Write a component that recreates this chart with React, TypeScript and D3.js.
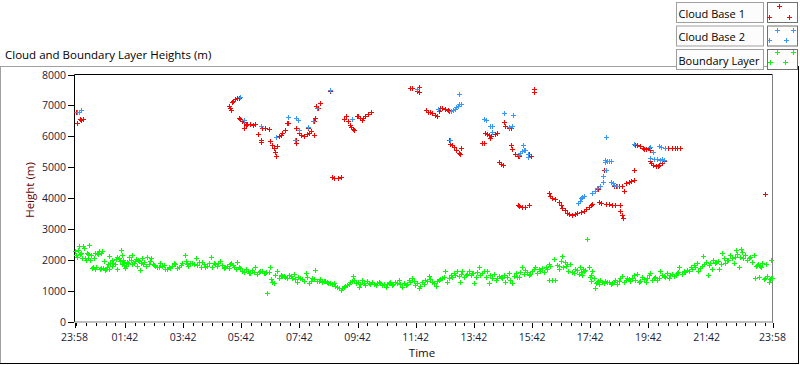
import React from "react";
import * as d3 from "d3";

// minutes since 23:58, height (m)
const cloudBase1: [number, number][] = [
  [4, 6790], [5, 6440], [12, 6560], [14, 6530], [17, 6570],
  [318, 6970], [320, 6900], [322, 6865], [325, 7100], [328, 7150], [332, 7200], [336, 7230], [339, 7245],
  [339, 6595], [342, 6560], [345, 6500], [349, 6450], [349, 6270], [353, 6380], [356, 6410], [363, 6400],
  [369, 6380], [373, 6400], [379, 6085], [384, 5890], [385, 5810], [387, 6270], [392, 6260], [401, 6240],
  [404, 5835], [407, 5730], [411, 5620], [414, 5500], [415, 5350], [418, 5675], [421, 6000], [425, 6050],
  [429, 6100], [435, 6215], [439, 6430], [441, 6430],
  [456, 6270], [456, 5890], [457, 5790], [463, 6110], [468, 6040], [474, 6020], [479, 6060], [483, 6100],
  [481, 6270], [487, 6160], [494, 6055], [494, 6485], [497, 6595], [499, 6970], [502, 6920], [507, 7080],
  [527, 7460], [532, 4680], [536, 4660], [543, 4650], [549, 4665],
  [556, 6560], [561, 6670], [564, 6485], [568, 6380], [571, 6300], [575, 6240], [576, 6215], [583, 6650],
  [584, 6670], [588, 6600], [594, 6540], [596, 6580], [600, 6650], [605, 6720], [611, 6780],
  [693, 7570], [696, 7560], [706, 7450], [710, 7590], [710, 7430],
  [726, 6840], [730, 6800], [734, 6780], [738, 6760], [743, 6700], [747, 6670], [752, 6810], [755, 6930],
  [759, 6910], [765, 6890], [770, 6850], [772, 6810],
  [846, 6110], [850, 6080], [855, 6055], [858, 5945], [860, 6000], [867, 6085], [871, 6090],
  [886, 6450], [889, 6320], [896, 6270], [900, 6270], [840, 5785], [844, 5785],
  [772, 5890], [775, 5760], [778, 5710], [783, 5650], [788, 5545], [793, 5460], [796, 5440], [798, 5620],
  [875, 5155], [879, 5110], [884, 5080],
  [900, 5720], [903, 5590], [909, 5435], [914, 5350], [917, 5370], [938, 5425], [941, 5370],
  [948, 7540], [948, 7430],
  [914, 3780], [918, 3740], [924, 3705], [930, 3720], [938, 3780],
  [978, 4160], [982, 4050], [986, 4010], [992, 3965], [999, 3855], [1003, 3780], [1006, 3675], [1011, 3600],
  [1016, 3530], [1021, 3490], [1027, 3455], [1032, 3490], [1037, 3530], [1044, 3560], [1051, 3595],
  [1056, 3640], [1061, 3705], [1065, 3760], [1068, 3815],
  [1082, 3855], [1087, 3830], [1096, 3815], [1102, 3800], [1109, 3780], [1116, 3780], [1125, 3780],
  [1126, 3565], [1129, 3450], [1132, 3350],
  [1073, 4235], [1079, 4290], [1093, 4915],
  [1113, 4400], [1118, 4400], [1124, 4400], [1130, 4400], [1133, 4235], [1137, 4485], [1143, 4520],
  [1149, 4560], [1154, 4590], [1154, 4915],
  [1157, 5730], [1161, 5720], [1167, 5695], [1172, 5630], [1175, 5590], [1178, 5600], [1185, 5620], [1188, 5565],
  [1219, 5620], [1225, 5620], [1232, 5620], [1238, 5620], [1244, 5620], [1249, 5620],
  [1187, 5210], [1190, 5130], [1194, 5080], [1199, 5050], [1203, 5025], [1206, 5070], [1212, 5135], [1217, 5210],
  [1424, 4140],
];

const cloudBase2: [number, number][] = [
  [6, 6780], [10, 6800], [14, 6850],
  [342, 7275], [349, 6540], [385, 6320], [415, 5980], [441, 6625],
  [457, 6595], [461, 6540], [455, 5870], [463, 6215], [481, 6290], [493, 6510], [501, 6930],
  [528, 7500], [573, 6560], [707, 7530],
  [749, 6880], [776, 6810], [780, 6850], [784, 6890], [788, 6950], [791, 6995], [794, 7030], [798, 7060], [793, 7375],
  [844, 6560], [848, 6520], [857, 6345], [862, 6345], [886, 6760], [905, 6700], [902, 6320], [862, 6130], [897, 6300],
  [774, 5870],
  [917, 5400], [920, 5460], [924, 5510], [927, 5540], [930, 5565], [926, 5720], [935, 5440], [935, 5330],
  [1039, 3835], [1042, 3900], [1045, 4000], [1048, 4040], [1051, 4075],
  [1068, 4160], [1073, 4240], [1078, 4320], [1084, 4400], [1091, 4505], [1090, 4700], [1094, 5240], [1098, 5210],
  [1102, 5200], [1107, 5185], [1096, 5980], [1096, 4900], [1095, 5160],
  [1106, 4505], [1110, 4470], [1114, 4420], [1120, 4400],
  [1155, 5750], [1188, 5640], [1193, 5490], [1206, 5675], [1211, 5650], [1219, 5620],
  [1188, 5295], [1195, 5260], [1201, 5250], [1207, 5240], [1213, 5270], [1216, 5240],
];

const boundaryLayer: [number, number][] = [
  [2, 2270], [6, 2100], [9, 2430], [14, 2230], [18, 2450], [21, 2050], [25, 2210], [30, 2480], [33, 2000],
  [37, 1730], [40, 2050], [43, 2210], [45, 1780], [50, 2270], [52, 1690], [57, 2270], [60, 1950], [63, 1670],
  [67, 1780], [71, 2130], [74, 1890], [80, 1910], [85, 2020], [88, 1690], [91, 2050], [95, 2320], [98, 2160],
  [102, 1830], [105, 1730], [109, 1940], [116, 2000], [119, 2160], [122, 1890], [126, 2020], [131, 2000],
  [136, 1670], [140, 2050], [144, 1940], [150, 2100], [153, 1860], [158, 2050], [164, 1830], [171, 1780],
  [177, 1910], [184, 1830], [191, 1690], [198, 1720], [205, 1890], [212, 1720], [219, 1830], [227, 2160],
  [232, 1860], [239, 1880], [250, 2050], [253, 1830], [263, 1940], [270, 1780], [281, 2100], [287, 1910],
  [294, 1800], [301, 1970], [308, 1720], [315, 1800], [323, 1910], [329, 1780], [336, 1940], [342, 1730],
  [353, 1690], [360, 1560], [367, 1670], [373, 1780], [380, 1590], [387, 1620], [394, 1560], [398, 910],
  [404, 1780], [408, 1290], [411, 1240], [418, 1620], [425, 1510], [432, 1460], [439, 1400], [446, 1460],
  [452, 1540], [459, 1290], [466, 1400], [477, 1560], [483, 1260], [490, 1400], [497, 1670], [501, 1320],
  [507, 1370], [514, 1320], [521, 1290], [528, 1240], [535, 1240], [542, 1130], [549, 1020], [556, 1130],
  [563, 1190], [569, 1290], [574, 1460], [580, 1240], [587, 1130], [594, 1350], [600, 1190], [607, 1260],
  [614, 1290], [621, 1190], [628, 1290], [635, 1190], [642, 1130], [648, 1240], [655, 1190], [662, 1290],
  [669, 1350], [676, 1130], [683, 1190], [690, 1350], [697, 1400], [703, 1190], [710, 1080], [717, 1290],
  [724, 1350], [731, 1460], [738, 1290], [745, 1150], [752, 1350], [759, 1400], [765, 1650], [769, 1290],
  [776, 1510], [783, 1560], [790, 1650], [795, 1290], [800, 1650], [807, 1510], [814, 1620], [820, 1560],
  [824, 1260], [831, 1590], [834, 1760], [841, 1560], [851, 1650], [855, 1240], [862, 1400], [869, 1350],
  [875, 1480], [882, 1400], [889, 1290], [896, 1560], [903, 1260], [910, 1560], [917, 1430], [924, 1780],
  [930, 1670], [937, 1510], [944, 1620], [951, 1760], [958, 1690], [965, 1720], [972, 1780], [978, 1860],
  [978, 1350], [986, 1350], [989, 2020], [992, 1350], [996, 1830], [999, 1690], [1003, 1970], [1006, 2130],
  [1011, 1940], [1016, 1860], [1023, 1870], [1030, 1560], [1037, 1670], [1042, 1780], [1047, 1510],
  [1051, 1620], [1054, 1670], [1058, 2670], [1061, 1780], [1065, 1510], [1068, 1650], [1071, 1400],
  [1073, 1080], [1075, 1240], [1078, 1290], [1085, 1350], [1092, 1240], [1099, 1270], [1106, 1200],
  [1113, 1290], [1120, 1230], [1126, 1400], [1130, 1480], [1137, 1350], [1144, 1370], [1154, 1510],
  [1161, 1540], [1164, 1290], [1171, 1450], [1178, 1290], [1185, 1510], [1188, 1560], [1195, 1400],
  [1202, 1350], [1208, 1620], [1216, 1480], [1223, 1560], [1229, 1510], [1236, 1460], [1243, 1560],
  [1248, 1780], [1257, 1620], [1264, 1670], [1271, 1780], [1278, 1830], [1285, 1890], [1290, 1720],
  [1297, 2130], [1302, 1940], [1306, 1510], [1312, 1890], [1318, 1990], [1324, 1940], [1329, 1690],
  [1336, 2230], [1339, 2050], [1346, 1990], [1352, 2160], [1360, 1910], [1364, 2300], [1370, 1780],
  [1374, 2340], [1377, 2240], [1384, 2160], [1391, 2050], [1398, 1940], [1401, 2160], [1404, 1400],
  [1408, 1830], [1412, 1430], [1415, 1800], [1419, 1890], [1422, 1370], [1429, 1480], [1432, 1290],
  [1436, 1400], [1437, 1990],
  // second reading pass of the dense band
  [3, 2150], [8, 2300], [11, 2200], [16, 2050], [19, 2380], [23, 1980], [27, 2200], [28, 2050], [35, 2150],
  [39, 1750], [42, 1700], [47, 2220], [48, 2200], [54, 1720], [55, 2230], [59, 1730], [65, 1700], [69, 1850],
  [72, 1700], [77, 1800], [78, 2000], [83, 1850], [87, 2100], [93, 1950], [97, 1850], [100, 2000], [103, 1900],
  [107, 1800], [111, 1900], [113, 2100], [118, 1850], [124, 1950], [128, 1800], [133, 1950], [138, 1900],
  [142, 1850], [147, 1800], [155, 1950], [161, 1850], [167, 1800], [174, 1780], [180, 1800], [187, 1700],
  [194, 1780], [201, 1800], [208, 1850], [215, 1780], [222, 1880], [229, 1950], [235, 1800], [243, 1900],
  [247, 1850], [257, 1920], [260, 1780], [267, 1870], [274, 1800], [278, 1880], [284, 1750], [290, 1850],
  [297, 1900], [304, 1830], [311, 1780], [318, 1720], [320, 1850], [326, 1820], [333, 1700], [339, 1780],
  [346, 1650], [350, 1600], [357, 1640], [363, 1560], [370, 1600], [376, 1550], [383, 1650], [390, 1580],
  [396, 1600], [401, 1610], [406, 1380], [414, 1500], [421, 1420], [428, 1480], [435, 1450], [442, 1500],
  [449, 1420], [455, 1380], [462, 1440], [470, 1380], [473, 1300], [480, 1450], [487, 1320], [494, 1380],
  [504, 1300], [511, 1280], [517, 1300], [524, 1260], [531, 1200], [538, 1150], [545, 1100], [552, 1080],
  [559, 1150], [566, 1230], [572, 1320], [577, 1350], [584, 1280], [590, 1220], [597, 1250], [604, 1300],
  [610, 1200], [617, 1220], [624, 1250], [631, 1260], [638, 1220], [645, 1200], [651, 1280], [658, 1230],
  [665, 1250], [672, 1200], [679, 1260], [686, 1230], [693, 1280], [700, 1300], [707, 1250], [713, 1150],
  [720, 1200], [727, 1300], [734, 1380], [741, 1250], [748, 1300], [755, 1380], [762, 1450], [772, 1400],
  [779, 1450], [786, 1500], [793, 1480], [797, 1550], [804, 1450], [810, 1550], [817, 1500], [822, 1580],
  [828, 1450], [837, 1500], [844, 1620], [848, 1450], [858, 1500], [865, 1550], [872, 1420], [879, 1450],
  [886, 1520], [892, 1450], [899, 1350], [906, 1480], [913, 1450], [920, 1600], [927, 1550], [933, 1600],
  [940, 1550], [947, 1700], [954, 1580], [961, 1650], [968, 1600], [975, 1700], [982, 1800], [1000, 1790],
  [1008, 1750], [1013, 1800], [1019, 1650], [1026, 1600], [1033, 1700], [1040, 1550], [1044, 1600],
  [1049, 1700], [1063, 1450], [1066, 1300], [1080, 1320], [1082, 1220], [1088, 1280], [1095, 1320],
  [1102, 1280], [1109, 1250], [1116, 1350], [1123, 1300], [1133, 1290], [1140, 1420], [1147, 1300],
  [1151, 1400], [1157, 1350], [1167, 1320], [1174, 1380], [1181, 1400], [1191, 1350], [1198, 1450],
  [1205, 1420], [1212, 1500], [1219, 1450], [1226, 1420], [1233, 1550], [1240, 1500], [1246, 1600],
  [1253, 1550], [1260, 1600], [1267, 1650], [1274, 1700], [1281, 1750], [1287, 1650], [1294, 1800],
  [1299, 1850], [1309, 1820], [1315, 1700], [1321, 1880], [1327, 1950], [1333, 1850], [1342, 1900],
  [1349, 2000], [1356, 2050], [1362, 2100], [1367, 2200], [1372, 2100], [1380, 2050], [1387, 2000],
  [1394, 2100], [1405, 1800], [1410, 1850], [1417, 1750], [1425, 1400], [1427, 1850], [1434, 1380],
  [1439, 1420],
];

const xTickMinutes = [0, 104, 224, 344, 464, 584, 704, 824, 944, 1064, 1184, 1304, 1440];
const xTickLabels = ["23:58", "01:42", "03:42", "05:42", "07:42", "09:42", "11:42", "13:42", "15:42", "17:42", "19:42", "21:42", "23:58"];
const yTicks = [0, 1000, 2000, 3000, 4000, 5000, 6000, 7000, 8000];
const seriesNames = ["Cloud Base 1", "Cloud Base 2", "Boundary Layer"];
const seriesColors = ["#ff0000", "#3399ff", "#00ff00"];

const FONT = "'Open Sans', 'Noto Sans', sans-serif";
const CROSS = "M-2,0H2M0,-2V2";

function Cross({ x, y, color }: { x: number; y: number; color: string }) {
  return (
    <path
      d={CROSS}
      transform={`translate(${Math.round(x) + 0.5},${Math.round(y) + 0.5})`}
      stroke={color}
      strokeWidth={1}
      strokeLinecap="square"
      fill="none"
      shapeRendering="crispEdges"
    />
  );
}

export default function App() {
  const left = 74.5, right = 772.5, top = 74.5, bottom = 321.5;
  const x = d3.scaleLinear().domain([0, 1440]).range([left, right]);
  const y = d3.scaleLinear().domain([0, 8000]).range([bottom, top]);

  const minorTicks = d3.range(4, 1440, 20).filter((m) => !xTickMinutes.includes(m));
  const series = [cloudBase1, cloudBase2, boundaryLayer];
  const legendSwatch: [number, number][][] = [
    [[779, 6], [769, 17], [789, 17]],
    [[777, 30], [769, 40], [786, 40], [793, 30]],
    [[777, 52], [770, 62], [785, 62], [793, 52]],
  ];

  return (
    <svg
      width={800}
      height={365}
      style={{ position: "absolute", left: 0, top: 0, background: "#fff" }}
      fontFamily={FONT}
    >
      {/* outer frame */}
      <line x1={0} x2={799} y1={66.5} y2={66.5} stroke="#a0a0a0" />
      <line x1={0.5} x2={0.5} y1={66} y2={364} stroke="#a0a0a0" />
      <line x1={798.5} x2={798.5} y1={66} y2={364} stroke="#000" />
      <line x1={0} x2={799} y1={363.5} y2={363.5} stroke="#000" />

      <text x={5} y={59} fontSize={11.5} fill="#000">Cloud and Boundary Layer Heights (m)</text>

      {/* plot frame */}
      <line x1={left} x2={right} y1={top} y2={top} stroke="#000" />
      <line x1={left} x2={left} y1={top} y2={bottom + 0.5} stroke="#000" />
      <line x1={right} x2={right} y1={top} y2={bottom + 1} stroke="#808080" />
      <line x1={left} x2={right + 0.5} y1={bottom + 0.5} y2={bottom + 0.5} stroke="#808080" />

      {/* y axis */}
      {yTicks.map((t) => (
        <g key={t}>
          <line x1={68} x2={74} y1={Math.round(y(t)) + 0.5} y2={Math.round(y(t)) + 0.5} stroke="#000" />
          <text x={66} y={Math.round(y(t)) + 4} fontSize={10.5} textAnchor="end" fill="#1c1c3a">{t}</text>
        </g>
      ))}
      <text
        transform={`translate(34,190) rotate(-90)`}
        fontSize={11.5}
        textAnchor="middle"
        fill="#660000"
      >
        Height (m)
      </text>

      {/* x axis */}
      {minorTicks.map((m) => (
        <line key={m} x1={Math.round(x(m)) + 0.5} x2={Math.round(x(m)) + 0.5} y1={323} y2={326} stroke="#000" />
      ))}
      {xTickMinutes.map((m, i) => (
        <g key={i}>
          <line x1={Math.round(x(m)) + 0.5} x2={Math.round(x(m)) + 0.5} y1={323} y2={328} stroke="#000" />
          <text x={x(m)} y={341} fontSize={10.5} textAnchor="middle" fill="#1c1c3a">{xTickLabels[i]}</text>
        </g>
      ))}
      <text x={422} y={357} fontSize={11.5} textAnchor="middle" fill="#1a0a0a">Time</text>

      {/* data */}
      {series.map((s, si) =>
        s.map((d, i) => <Cross key={`${si}-${i}`} x={x(d[0])} y={y(d[1])} color={seriesColors[si]} />)
      )}

      {/* legend */}
      {seriesNames.map((name, i) => {
        const t = 2.5 + i * 23.5;
        return (
          <g key={name}>
            <rect x={676.5} y={t} width={87} height={20} fill="#fcfcfc" stroke="#a0a0a0" />
            <text x={678.5} y={t + 15} fontSize={11} fill="#000">{name}</text>
            <rect x={767.5} y={t} width={30} height={20} fill="#fff" stroke="#707070" />
            {legendSwatch[i].map((p, j) => (
              <Cross key={j} x={p[0]} y={p[1]} color={seriesColors[i]} />
            ))}
          </g>
        );
      })}
    </svg>
  );
}
